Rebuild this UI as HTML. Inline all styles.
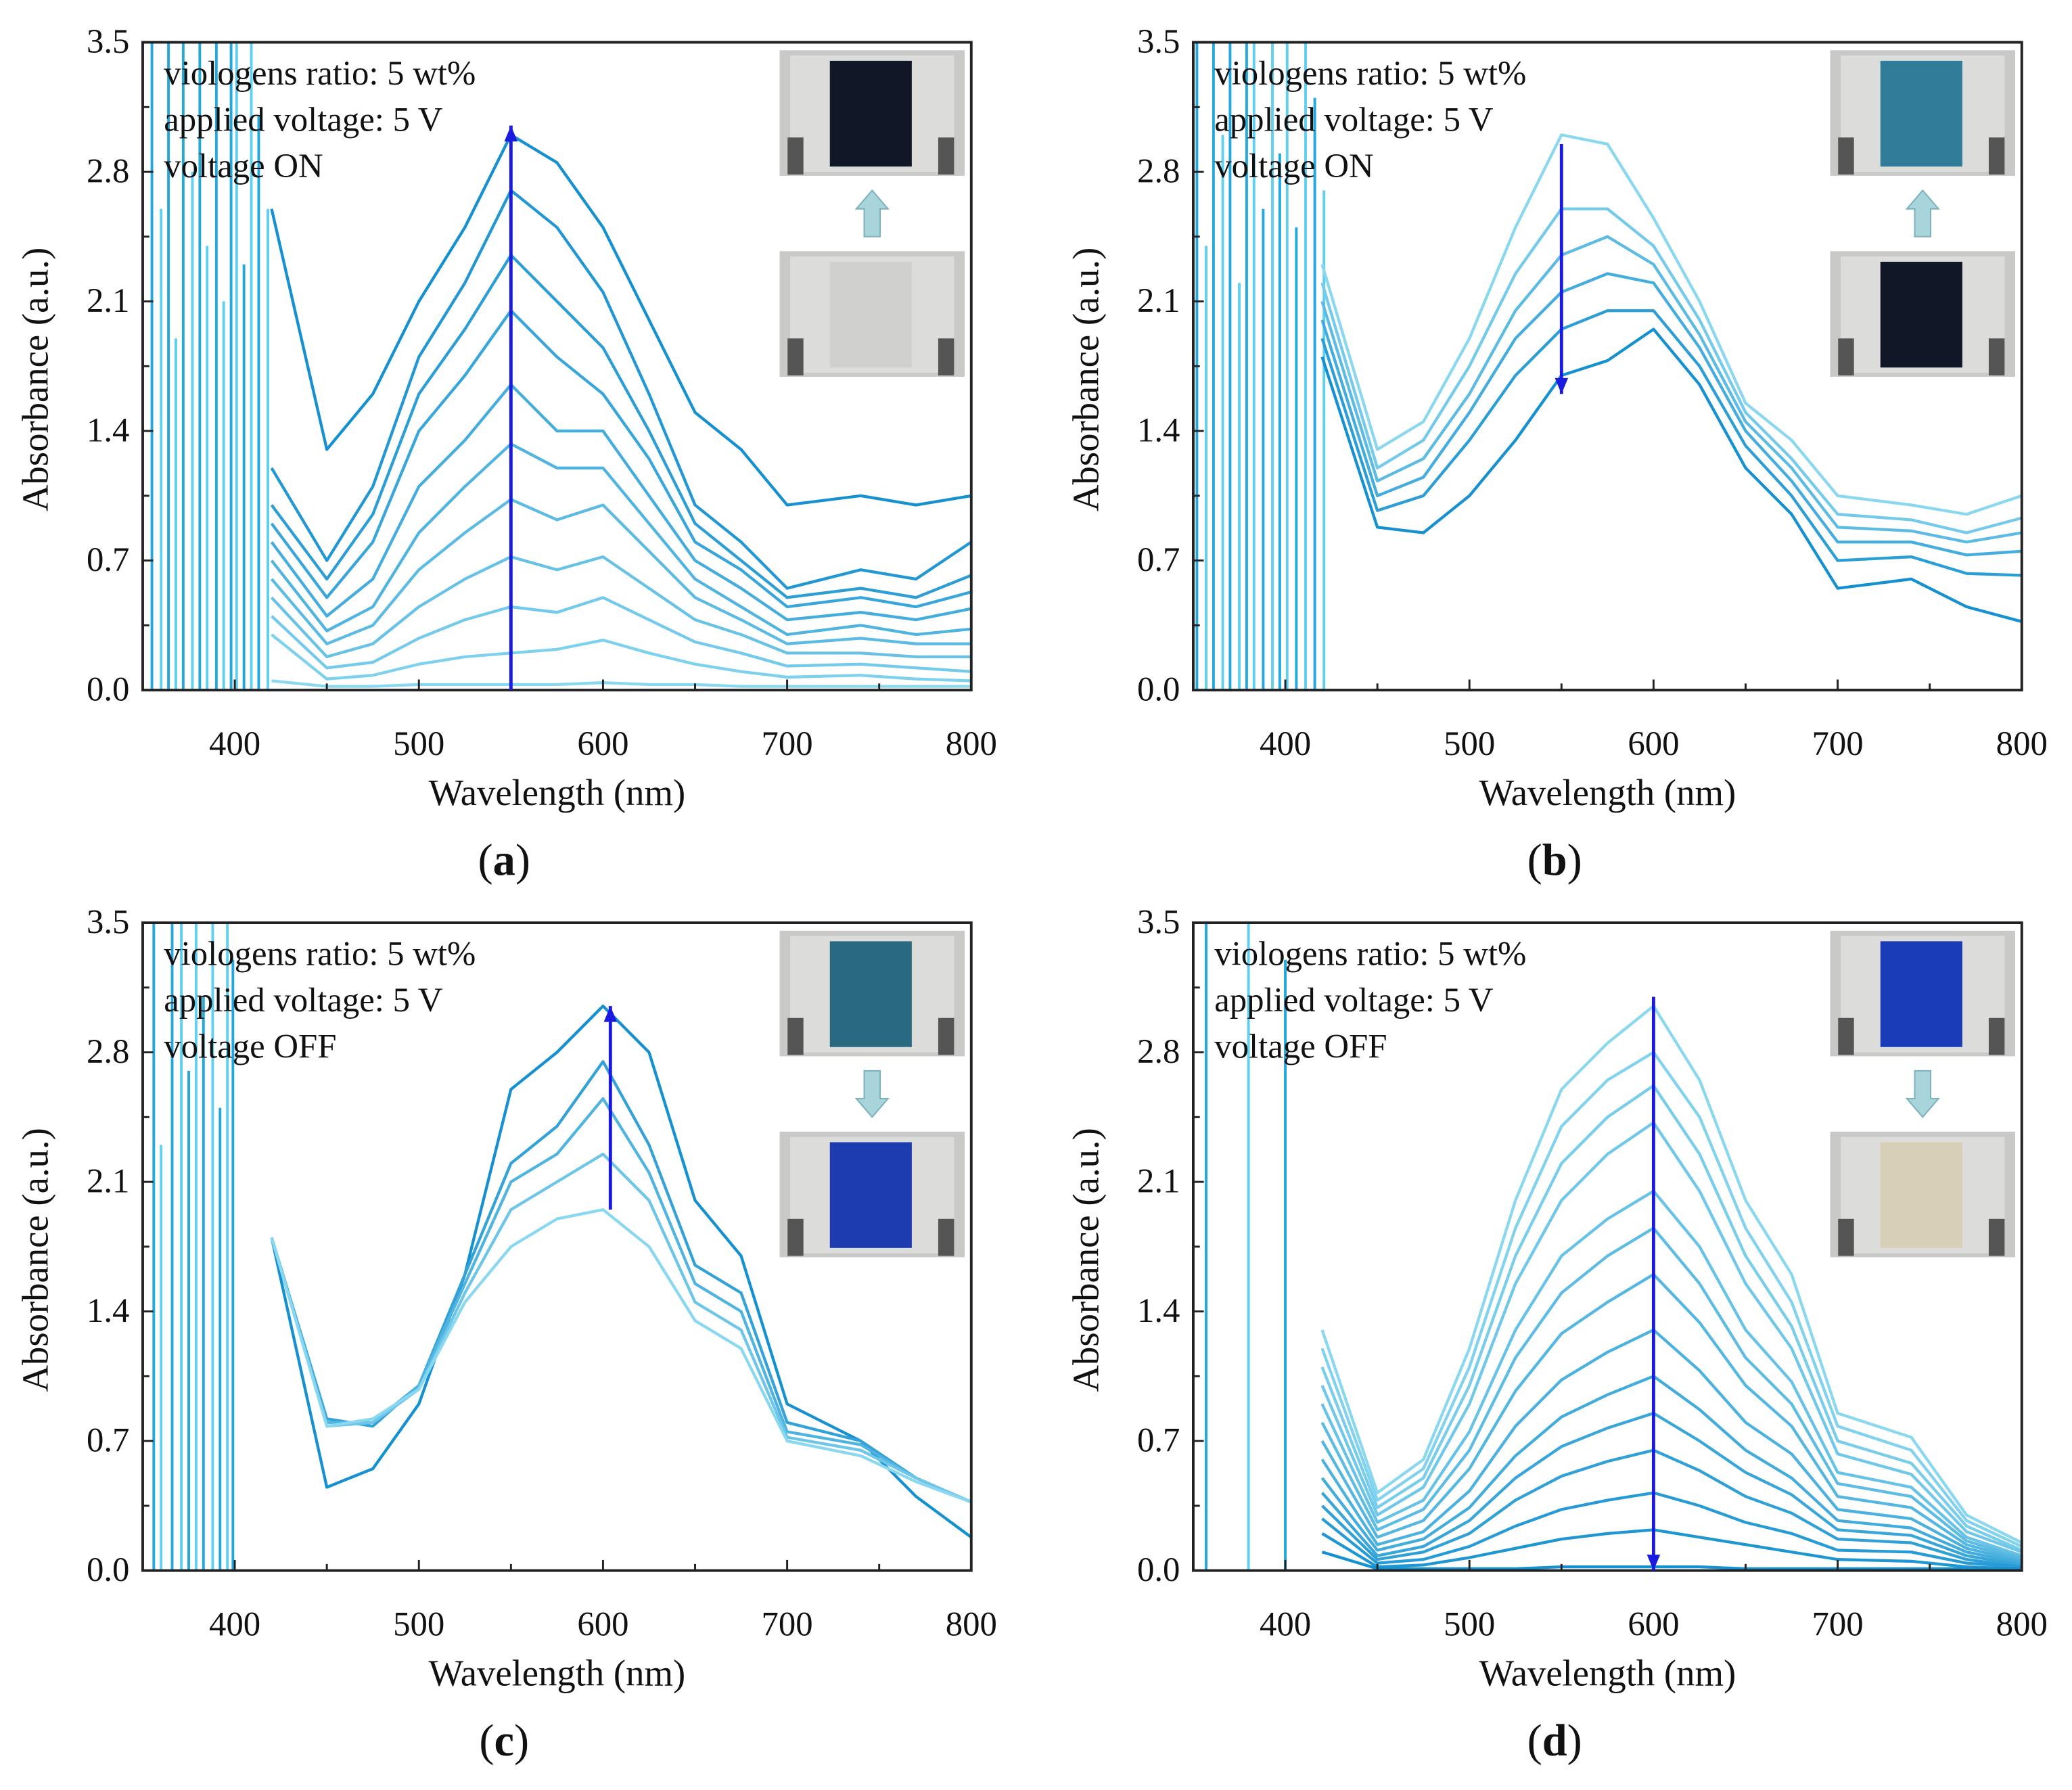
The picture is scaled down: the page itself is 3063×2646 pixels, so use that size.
<!DOCTYPE html>
<html><head><meta charset="utf-8"><style>
html,body{margin:0;padding:0;background:#fff}
svg{display:block}
text{font-family:"Liberation Serif",serif;fill:#111}
</style></head><body>
<svg id="fig" width="3063" height="2646" viewBox="0 0 1568 1354" preserveAspectRatio="none"></svg>
<script>
const W=[420,450,475,500,525,550,575,600,625,650,675,700,740,770,800];
const seriesA=[
[2.6,1.3,1.6,2.1,2.5,3.0,2.85,2.5,2.0,1.5,1.3,1.0,1.05,1.0,1.05],
[1.2,0.7,1.1,1.8,2.2,2.7,2.5,2.15,1.6,1.0,0.8,0.55,0.65,0.6,0.8],
[1.0,0.6,0.95,1.6,1.95,2.35,2.1,1.85,1.4,0.9,0.7,0.5,0.55,0.5,0.62],
[0.9,0.5,0.8,1.4,1.7,2.05,1.8,1.6,1.25,0.8,0.65,0.45,0.5,0.45,0.53],
[0.8,0.4,0.6,1.1,1.35,1.65,1.4,1.4,1.05,0.7,0.55,0.38,0.42,0.38,0.44],
[0.7,0.32,0.45,0.85,1.1,1.33,1.2,1.2,0.9,0.6,0.45,0.3,0.35,0.3,0.33],
[0.6,0.25,0.35,0.65,0.85,1.03,0.92,1.0,0.75,0.5,0.38,0.25,0.28,0.25,0.25],
[0.5,0.18,0.25,0.45,0.6,0.72,0.65,0.72,0.55,0.38,0.3,0.2,0.2,0.18,0.18],
[0.4,0.12,0.15,0.28,0.38,0.45,0.42,0.5,0.38,0.26,0.2,0.13,0.14,0.12,0.1],
[0.3,0.06,0.08,0.14,0.18,0.2,0.22,0.27,0.2,0.14,0.1,0.07,0.08,0.06,0.05],
[0.05,0.02,0.02,0.03,0.03,0.03,0.03,0.04,0.03,0.03,0.02,0.02,0.02,0.02,0.02]];
const seriesB=[
[2.3,1.3,1.45,1.9,2.5,3.0,2.95,2.55,2.1,1.55,1.35,1.05,1.0,0.95,1.05],
[2.2,1.2,1.35,1.75,2.25,2.6,2.6,2.4,2.0,1.5,1.25,0.95,0.92,0.85,0.93],
[2.1,1.13,1.25,1.6,2.05,2.35,2.45,2.3,1.92,1.45,1.2,0.88,0.86,0.8,0.85],
[2.0,1.05,1.15,1.5,1.9,2.15,2.25,2.2,1.85,1.4,1.13,0.8,0.8,0.73,0.75],
[1.9,0.97,1.05,1.35,1.7,1.95,2.05,2.05,1.75,1.32,1.05,0.7,0.72,0.63,0.62],
[1.8,0.88,0.85,1.05,1.35,1.7,1.78,1.95,1.65,1.2,0.95,0.55,0.6,0.45,0.37]];
const seriesC=[
[1.8,0.45,0.55,0.9,1.6,2.6,2.8,3.05,2.8,2.0,1.7,0.9,0.7,0.4,0.18],
[1.8,0.82,0.78,1.0,1.6,2.2,2.4,2.75,2.3,1.65,1.5,0.8,0.7,0.5,0.37],
[1.8,0.8,0.8,1.0,1.55,2.1,2.25,2.55,2.15,1.55,1.4,0.75,0.68,0.5,0.37],
[1.8,0.78,0.8,0.98,1.5,1.95,2.1,2.25,2.0,1.45,1.3,0.72,0.65,0.5,0.37],
[1.8,0.78,0.82,0.98,1.45,1.75,1.9,1.95,1.75,1.35,1.2,0.7,0.62,0.48,0.37]];
const seriesD=[
[1.3,0.42,0.6,1.2,2.0,2.6,2.85,3.05,2.65,2.0,1.6,0.85,0.72,0.3,0.15],
[1.2,0.38,0.55,1.1,1.85,2.4,2.65,2.8,2.45,1.85,1.45,0.78,0.65,0.27,0.13],
[1.1,0.34,0.5,1.0,1.7,2.2,2.45,2.62,2.25,1.7,1.32,0.7,0.58,0.24,0.11],
[1.0,0.3,0.45,0.9,1.55,2.0,2.25,2.42,2.05,1.55,1.2,0.63,0.52,0.21,0.1],
[0.9,0.26,0.38,0.75,1.3,1.7,1.9,2.05,1.75,1.3,1.02,0.53,0.45,0.18,0.08],
[0.8,0.22,0.33,0.65,1.15,1.5,1.7,1.85,1.55,1.15,0.9,0.47,0.4,0.16,0.07],
[0.7,0.18,0.27,0.55,0.97,1.28,1.45,1.6,1.34,1.0,0.78,0.4,0.34,0.14,0.06],
[0.6,0.14,0.21,0.43,0.78,1.03,1.18,1.3,1.08,0.8,0.63,0.33,0.28,0.12,0.05],
[0.5,0.11,0.17,0.34,0.62,0.83,0.95,1.05,0.87,0.65,0.5,0.27,0.23,0.1,0.04],
[0.42,0.08,0.13,0.27,0.5,0.67,0.77,0.85,0.7,0.53,0.41,0.22,0.19,0.08,0.03],
[0.35,0.06,0.1,0.2,0.38,0.51,0.59,0.65,0.54,0.4,0.31,0.17,0.15,0.06,0.02],
[0.28,0.04,0.06,0.13,0.24,0.33,0.38,0.42,0.35,0.26,0.2,0.11,0.1,0.04,0.02],
[0.2,0.02,0.03,0.07,0.12,0.17,0.2,0.22,0.18,0.14,0.1,0.06,0.05,0.02,0.01],
[0.1,0.01,0.01,0.01,0.01,0.02,0.02,0.02,0.02,0.01,0.01,0.01,0.01,0.01,0.01]];
const noiseA=[355,360,364,368,372,377,381,385,390,394,398,401,405,409,413,418];
const noiseB=[352,357,361,366,370,375,379,383,388,393,397,401,406,411,416,421];
const noiseC=[356,360,366,371,375,379,383,388,392,396,399];
const noiseD=[357,380,400];
const xTicks=[400,500,600,700,800];
const yTicks=[0.0,0.7,1.4,2.1,2.8,3.5];
const NS="http://www.w3.org/2000/svg";
const svg=document.getElementById('fig');
function mk(t,a,p){const e=document.createElementNS(NS,t);for(const k in a)e.setAttribute(k,a[k]);(p||svg).appendChild(e);return e;}
function lerp(c1,c2,t){const a=[parseInt(c1.slice(1,3),16),parseInt(c1.slice(3,5),16),parseInt(c1.slice(5,7),16)],b=[parseInt(c2.slice(1,3),16),parseInt(c2.slice(3,5),16),parseInt(c2.slice(5,7),16)];return 'rgb('+a.map((v,i)=>Math.round(v+(b[i]-v)*t)).join(',')+')';}
function panel(id,ox,oy,series,noise,noiseTop,darkFirst,label,state,arrow,photos,photoArrowUp){
  const w=627,h=490;
  const g=mk('g',{});
  
  
  const xs=v=>ox+(v-350)/450*w, ys=v=>oy+h-v/3.5*h;
  noise.forEach((n,i)=>{const l=mk('line',{x1:xs(n),x2:xs(n),y1:ys(0),y2:ys(noiseTop[i%noiseTop.length]),stroke:i%2?'#5fd0f0':'#22a8dc','stroke-width':2},g);
    });
  const N=series.length;
  series.forEach((s,i)=>{const t=N>1?i/(N-1):0;const col=darkFirst?lerp('#1590d0','#8ad8f0',t):lerp('#8ad8f0','#1590d0',t);
    const p=mk('polyline',{points:s.map((v,j)=>xs(W[j])+','+ys(v)).join(' '),fill:'none',stroke:col,'stroke-width':2.2,'stroke-linejoin':'round'},g);
    });
  const f=mk('rect',{x:ox,y:oy,width:w,height:h,fill:'none',stroke:'#222','stroke-width':2},g);
  
  for(let v=350;v<=800;v+=50){mk('line',{x1:xs(v),x2:xs(v),y1:ys(0),y2:ys(0)-(v%100==0?8:5),stroke:'#222','stroke-width':1.5},g);}
  xTicks.forEach(v=>{const t=mk('text',{x:xs(v),y:oy+h+49,'text-anchor':'middle','font-size':26},g);t.textContent=v;});
  for(let v=0;v<=3.5001;v+=0.35){mk('line',{x1:ox,x2:ox+(Math.round(v/0.35)%2==0?8:5),y1:ys(v),y2:ys(v),stroke:'#222','stroke-width':1.5},g);}
  yTicks.forEach(v=>{const t=mk('text',{x:ox-10,y:ys(v)+8,'text-anchor':'end','font-size':26},g);t.textContent=v.toFixed(1);});
  const xt=mk('text',{x:ox+w/2,y:oy+h+87,'text-anchor':'middle','font-size':28},g);xt.textContent='Wavelength (nm)';
  
  const yt=mk('text',{x:0,y:0,'text-anchor':'middle','font-size':28,transform:`translate(${ox-72},${oy+h/2+10}) rotate(-90)`},g);yt.textContent='Absorbance (a.u.)';
  
  ['viologens ratio: 5 wt%','applied voltage: 5 V',state].forEach((s,i)=>{const t=mk('text',{x:ox+16,y:oy+32+i*35,'font-size':26},g);t.textContent=s;});
  const a=mk('line',{x1:xs(arrow[0]),x2:xs(arrow[0]),y1:ys(arrow[1]),y2:ys(arrow[2]),stroke:'#1a1ae0','stroke-width':2.5},g);
  
  const up=arrow[2]>arrow[1],ty=ys(arrow[2]);
  mk('polygon',{points:`${xs(arrow[0])-5},${ty+(up?12:-12)} ${xs(arrow[0])+5},${ty+(up?12:-12)} ${xs(arrow[0])},${ty}`,fill:'#1a1ae0'},g);
  photos.forEach((c,i)=>{const px=ox+w-145,py=oy+6+i*152;
    const pg=mk('g',{},g);
    mk('rect',{x:px,y:py,width:140,height:95,fill:'#c9c9c7'},pg);
    mk('rect',{x:px+8,y:py+4,width:124,height:88,fill:'#dcdcda'},pg);
    mk('rect',{x:px+38,y:py+8,width:62,height:80,fill:c},pg);
    mk('rect',{x:px+6,y:py+66,width:12,height:28,fill:'#555'},pg);
    mk('rect',{x:px+120,y:py+66,width:12,height:28,fill:'#555'},pg);});
  const ax=ox+w-75,ay=oy+112;
  const pa=mk('polygon',{points:photoArrowUp?`${ax-6},${ay+35} ${ax+6},${ay+35} ${ax+6},${ay+14} ${ax+12},${ay+14} ${ax},${ay} ${ax-12},${ay+14} ${ax-6},${ay+14}`:`${ax-6},${ay} ${ax+6},${ay} ${ax+6},${ay+21} ${ax+12},${ay+21} ${ax},${ay+35} ${ax-12},${ay+21} ${ax-6},${ay+21}`,fill:'#a8d4dc',stroke:'#7ab0bb'},g);
  
  const lb=mk('text',{x:ox+w/2-40,y:oy+h+140,'text-anchor':'middle','font-size':34},g);
  lb.innerHTML='(<tspan font-weight="bold">'+label+'</tspan>)';
  
}
panel('a',108,32,seriesA,noiseA,[3.5,2.6,3.5,1.9,3.5,2.8,3.5,2.4,3.5,2.1,3.5,3.5,2.3,3.5,3.1,2.6],true,'a','voltage ON',[550,0,3.05],['#101828','#d0d0ce'],true);
panel('b',903,32,seriesB,noiseB,[3.5,2.4,3.5,3.0,3.5,2.2,3.5,3.5,2.6,3.5,2.9,3.5,2.5,3.5,3.2,2.7],false,'b','voltage ON',[550,2.95,1.6],['#2f7d98','#101828'],true);
panel('c',108,698,seriesC,noiseC,[3.5,2.3,3.5,3.5,2.7,3.5,3.1,3.5,2.5,3.5,3.3],true,'c','voltage OFF',[604,1.95,3.05],['#2a6a80','#1c3cb0'],false);
panel('d',903,698,seriesD,noiseD,[3.5,3.5,3.3],false,'d','voltage OFF',[600,3.1,0],['#1a3cb8','#d8cfb8'],false);
</script>
</body></html>
